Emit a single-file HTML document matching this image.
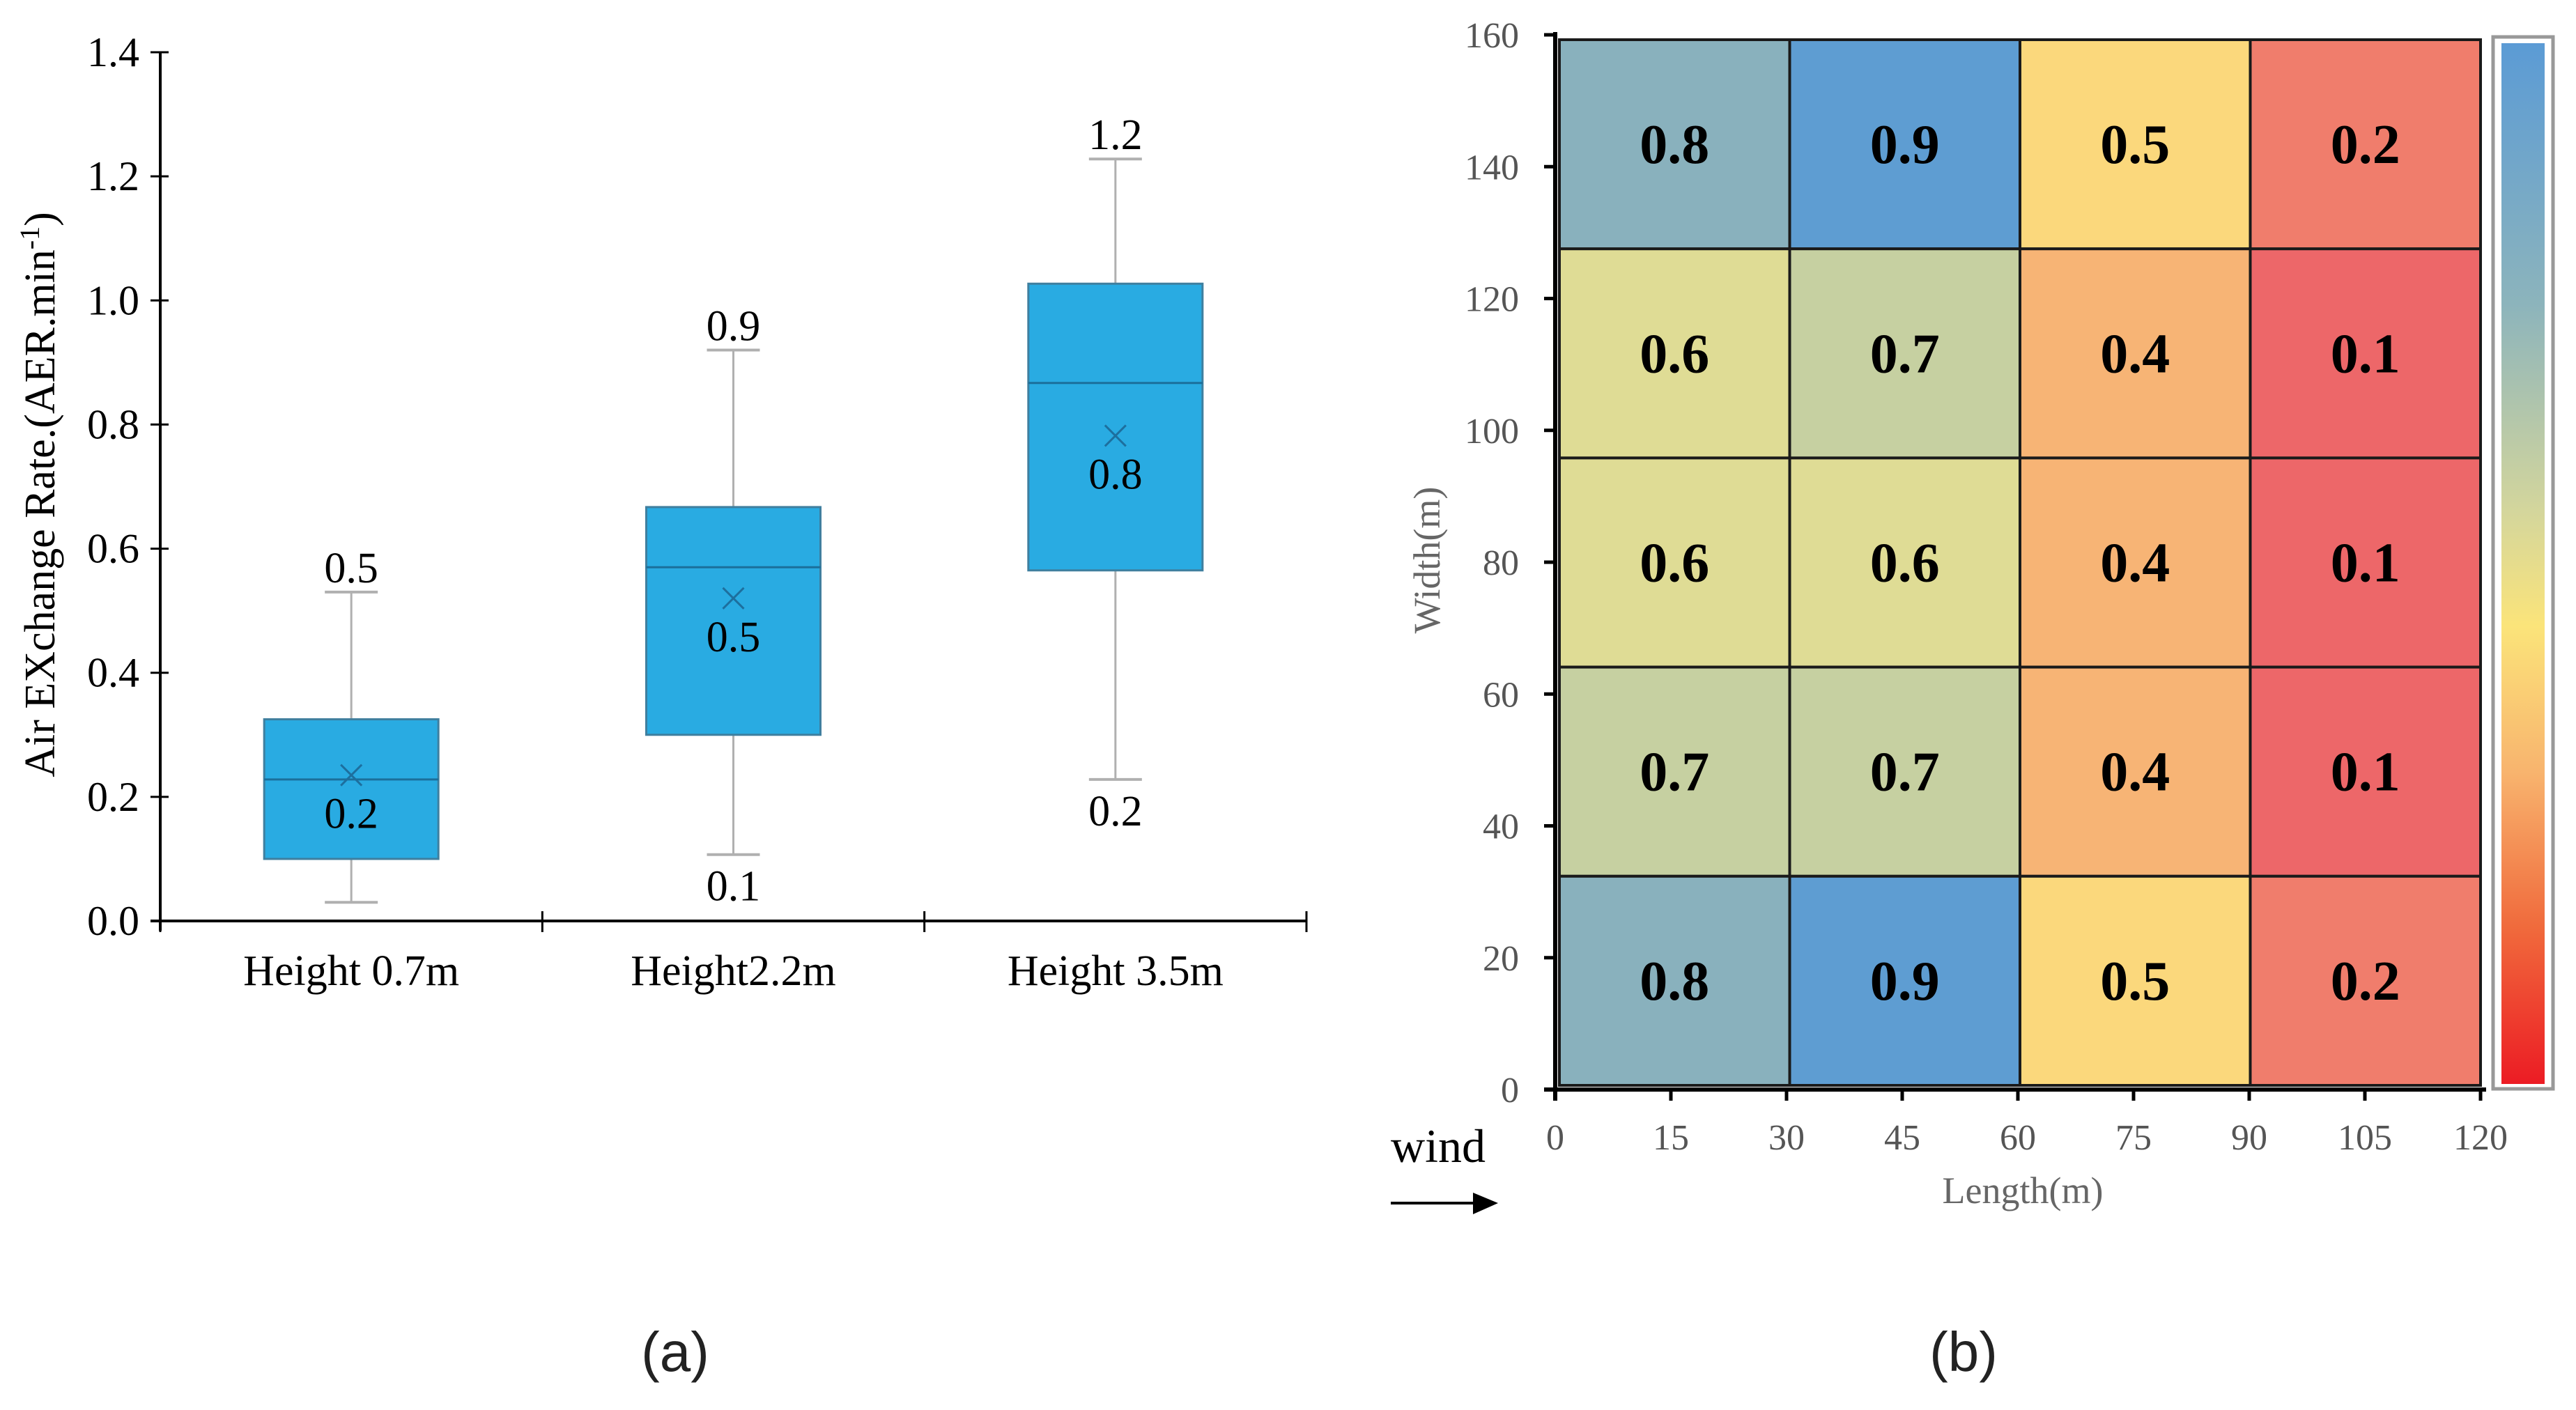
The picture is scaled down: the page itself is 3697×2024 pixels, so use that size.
<!DOCTYPE html>
<html><head><meta charset="utf-8"><style>
html,body{margin:0;padding:0;background:#fff;}
svg{display:block;}
text{font-family:"Liberation Serif",serif;}
</style></head><body>
<svg id="fig" width="3697" height="2024" viewBox="0 0 3697 2024" xmlns="http://www.w3.org/2000/svg">
<defs>
<linearGradient id="cbar" x1="0" y1="0" x2="0" y2="1">
<stop offset="0" stop-color="#5b9bd5"/><stop offset="0.25" stop-color="#8cb4bc"/>
<stop offset="0.45" stop-color="#d4d69c"/><stop offset="0.56" stop-color="#fbe47a"/>
<stop offset="0.7" stop-color="#f8b46e"/><stop offset="0.85" stop-color="#f06a3c"/>
<stop offset="1" stop-color="#ec1c24"/>
</linearGradient>
</defs>
<g id="boxchart"></g>
<g id="heatmap"></g>
<text x="969" y="1968" font-size="80" text-anchor="middle" style="font-family:'Liberation Sans',sans-serif" fill="#222">(a)</text>
<text x="2818" y="1968" font-size="80" text-anchor="middle" style="font-family:'Liberation Sans',sans-serif" fill="#222">(b)</text>
</svg>
<script>
// ---- Box chart data ----
const boxCategories = ["Height 0.7m", "Height2.2m", "Height 3.5m"];
const boxMin = [0.03, 0.107, 0.228];
const boxQ1 = [0.10, 0.30, 0.565];
const boxMedian = [0.228, 0.57, 0.867];
const boxQ3 = [0.325, 0.667, 1.027];
const boxMax = [0.53, 0.92, 1.228];
const boxMean = [0.235, 0.52, 0.782];
const boxMaxLabels = ["0.5", "0.9", "1.2"];
const boxMeanLabels = ["0.2", "0.5", "0.8"];
const boxMinLabels = ["", "0.1", "0.2"];
const boxYTicks = [0, 0.2, 0.4, 0.6, 0.8, 1.0, 1.2, 1.4];

// ---- Heatmap data (rows from top, y=160 down) ----
const heatXTicks = [0, 15, 30, 45, 60, 75, 90, 105, 120];
const heatYTicks = [0, 20, 40, 60, 80, 100, 120, 140, 160];
const heatRow1 = [0.8, 0.9, 0.5, 0.2];
const heatRow2 = [0.6, 0.7, 0.4, 0.1];
const heatRow3 = [0.6, 0.6, 0.4, 0.1];
const heatRow4 = [0.7, 0.7, 0.4, 0.1];
const heatRow5 = [0.8, 0.9, 0.5, 0.2];

const NS = "http://www.w3.org/2000/svg";
function mk(parent, tag, attrs, txt){
  const e = document.createElementNS(NS, tag);
  for (const k in attrs) e.setAttribute(k, attrs[k]);
  if (txt !== undefined) e.textContent = txt;
  parent.appendChild(e);
  return e;
}

// ===== Box chart =====
(function(){
  const g = document.getElementById("boxchart");
  const X0 = 230, X1 = 1875, Y0 = 1322, YTOP = 75, VMAX = 1.4;
  const y = v => Y0 - (v / VMAX) * (Y0 - YTOP);
  const bw = (X1 - X0) / boxCategories.length;
  const xc = i => X0 + bw * (i + 0.5);
  let e;
  e = mk(g, "line", {x1:X0, y1:YTOP, x2:X0, y2:Y0+14, stroke:"#000", "stroke-width":4});
  
  
  e = mk(g, "line", {x1:X0-14, y1:Y0, x2:X1, y2:Y0, stroke:"#000", "stroke-width":4});
  
  
  boxYTicks.forEach(t => {
    e = mk(g, "line", {x1:X0-14, y1:y(t), x2:X0+12, y2:y(t), stroke:"#000", "stroke-width":3});
    
    
    e = mk(g, "text", {x:200, y:y(t)+20, "font-size":60, "text-anchor":"end", fill:"#000"}, t.toFixed(1));
    
    
  });
  for (let i = 0; i <= boxCategories.length; i++) {
    e = mk(g, "line", {x1:X0+bw*i, y1:Y0-14, x2:X0+bw*i, y2:Y0+16, stroke:"#000", "stroke-width":3});
    
    
  }
  e = mk(g, "text", {x:0, y:0, "font-size":62, "text-anchor":"middle", fill:"#000", transform:"translate(78,710) rotate(-90)"});
  e.innerHTML = 'Air  EXchange  Rate.(AER.min<tspan dy="-22" font-size="40">-1</tspan><tspan dy="22">)</tspan>';
  
  
  boxCategories.forEach((c, i) => {
    const cx = xc(i), hw = 125;
    e = mk(g, "text", {x:cx, y:1414, "font-size":62, "text-anchor":"middle", fill:"#000"}, c);
    
    
    e = mk(g, "line", {x1:cx, y1:y(boxMax[i]), x2:cx, y2:y(boxMin[i]), stroke:"#b0b0b0", "stroke-width":3});
    
    
    [boxMax[i], boxMin[i]].forEach(v => {
      e = mk(g, "line", {x1:cx-38, y1:y(v), x2:cx+38, y2:y(v), stroke:"#b0b0b0", "stroke-width":4});
      
      
    });
    e = mk(g, "rect", {x:cx-hw, y:y(boxQ3[i]), width:2*hw, height:y(boxQ1[i])-y(boxQ3[i]), fill:"#29abe2", stroke:"#3f7f9f", "stroke-width":3});
    
    
    e = mk(g, "line", {x1:cx-hw, y1:y(boxMedian[i]), x2:cx+hw, y2:y(boxMedian[i]), stroke:"#1b6f9b", "stroke-width":3});
    
    
    const my = y(boxMean[i]);
    e = mk(g, "path", {d:`M${cx-15},${my-15}L${cx+15},${my+15}M${cx+15},${my-15}L${cx-15},${my+15}`, stroke:"#1d6f9e", "stroke-width":3, fill:"none"});
    
    
    e = mk(g, "text", {x:cx, y:my+76, "font-size":62, "text-anchor":"middle", fill:"#000"}, boxMeanLabels[i]);
    
    
    e = mk(g, "text", {x:cx, y:y(boxMax[i])-14, "font-size":62, "text-anchor":"middle", fill:"#000"}, boxMaxLabels[i]);
    
    
    if (boxMinLabels[i]) {
      e = mk(g, "text", {x:cx, y:y(boxMin[i])+66, "font-size":62, "text-anchor":"middle", fill:"#000"}, boxMinLabels[i]);
      
      
    }
  });
})();

// ===== Heatmap =====
(function(){
  const g = document.getElementById("heatmap");
  const X0 = 2232, X1 = 3560, Y0 = 1564, Y1 = 50;
  const x = v => X0 + (v / 120) * (X1 - X0);
  const y = v => Y0 - (v / 160) * (Y0 - Y1);
  const rows = [heatRow1, heatRow2, heatRow3, heatRow4, heatRow5];
  const stops = [[0.1,[237,103,105]],[0.2,[240,125,108]],[0.4,[247,180,117]],[0.5,[251,216,124]],[0.6,[223,220,149]],[0.7,[198,208,161]],[0.8,[137,177,189]],[0.9,[94,157,210]]];
  function col(v){
    for (let k = 0; k < stops.length-1; k++) {
      if (v <= stops[k+1][0]) {
        const t = Math.max(0,(v - stops[k][0])/(stops[k+1][0]-stops[k][0]));
        const c = stops[k][1].map((a,j)=>Math.round(a+(stops[k+1][1][j]-a)*t));
        return `rgb(${c})`;
      }
    }
    return `rgb(${stops[stops.length-1][1]})`;
  }
  const nC = 4, nR = rows.length;
  const cw = (x(120) - x(0)) / nC, ch = (y(0) - y(160)) / nR;
  let e;
  rows.forEach((r, ri) => r.forEach((v, ci) => {
    const rx = x(0) + 6 + ci * (cw - 1.5), ry = y(160) + 7 + ri * (ch - 2.6);
    e = mk(g, "rect", {x:rx, y:ry, width:cw-1.5, height:ch-2.6, fill:col(v), stroke:"#1a1a1a", "stroke-width":4});
    
    
    e = mk(g, "text", {x:rx+(cw-1.5)/2, y:ry+(ch-2.6)/2+27, "font-size":80, "font-weight":"bold", "text-anchor":"middle", fill:"#000"}, v.toFixed(1));
    
    
  }));
  e = mk(g, "line", {x1:X0, y1:Y1-4, x2:X0, y2:Y0+16, stroke:"#000", "stroke-width":6});
  
  
  e = mk(g, "line", {x1:X0-16, y1:Y0, x2:X1+8, y2:Y0, stroke:"#000", "stroke-width":6});
  
  
  heatYTicks.forEach(t => {
    e = mk(g, "line", {x1:X0-16, y1:y(t), x2:X0, y2:y(t), stroke:"#000", "stroke-width":5});
    
    
    e = mk(g, "text", {x:2180, y:y(t)+18, "font-size":52, "text-anchor":"end", fill:"#555"}, String(t));
    
    
  });
  heatXTicks.forEach(t => {
    e = mk(g, "line", {x1:x(t), y1:Y0, x2:x(t), y2:Y0+16, stroke:"#000", "stroke-width":5});
    
    
    e = mk(g, "text", {x:x(t), y:1650, "font-size":52, "text-anchor":"middle", fill:"#555"}, String(t));
    
    
  });
  e = mk(g, "text", {x:2903, y:1727, "font-size":54, "text-anchor":"middle", fill:"#666"}, "Length(m)");
  
  
  e = mk(g, "text", {x:0, y:0, "font-size":54, "text-anchor":"middle", fill:"#666", transform:"translate(2066,804) rotate(-90)"}, "Width(m)");
  
  
  e = mk(g, "rect", {x:3578, y:53, width:86, height:1510, fill:"#fff", stroke:"#999", "stroke-width":5});
  
  
  e = mk(g, "rect", {x:3590, y:62, width:62, height:1494, fill:"url(#cbar)"});
  
  
  e = mk(g, "text", {x:1996, y:1668, "font-size":68, fill:"#000"}, "wind");
  
  
  e = mk(g, "path", {d:"M1996,1727L2118,1727", stroke:"#000", "stroke-width":4});
  
  
  e = mk(g, "path", {d:"M2114,1712L2150,1727L2114,1743Z", fill:"#000"});
  
  
})();
</script>
</body></html>
